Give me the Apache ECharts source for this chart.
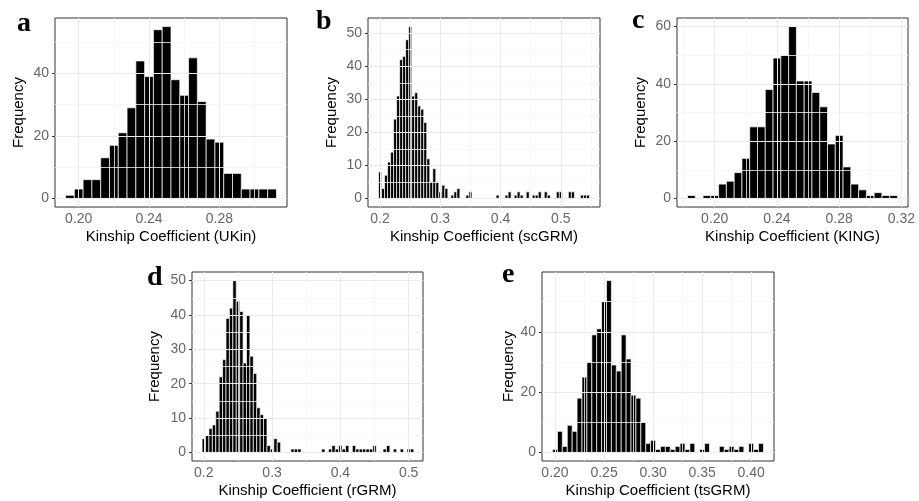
<!DOCTYPE html>
<html>
<head>
<meta charset="utf-8">
<script src="https://cdn.jsdelivr.net/npm/echarts@6/dist/echarts.min.js"></script>
<style>
  html, body { margin: 0; padding: 0; background: #fff; }
  #chart { width: 919px; height: 501px; }
</style>
</head>
<body>
<div id="chart"></div>
<script>
// Histogram bin width shared by all five estimators
const binWidth = 0.005;

// (a) UKin
const ukinBins   = [0.195, 0.200, 0.205, 0.210, 0.215, 0.220, 0.225, 0.230, 0.235, 0.240, 0.245, 0.250,
                    0.255, 0.260, 0.265, 0.270, 0.275, 0.280, 0.285, 0.290, 0.295, 0.300, 0.305, 0.310];
const ukinCounts = [1, 3, 6, 6, 13, 17, 21, 29, 44, 39, 54, 55,
                    38, 33, 45, 31, 19, 18, 8, 8, 3, 3, 3, 3];
const ukinTicksX = ['0.20', '0.24', '0.28'];
const ukinMinorX = [0.22, 0.26, 0.30];
const ukinTicksY = ['0', '20', '40'];
const ukinMinorY = [10, 30, 50];

// (b) scGRM (bins with zero count omitted)
const scgrmBins   = [0.200, 0.205, 0.210, 0.215, 0.220, 0.225, 0.230, 0.235, 0.240, 0.245, 0.250, 0.255,
                     0.260, 0.265, 0.270, 0.275, 0.280, 0.285, 0.290, 0.295, 0.300, 0.305, 0.310,
                     0.320, 0.325, 0.330, 0.345, 0.350, 0.395, 0.410, 0.415, 0.425, 0.430, 0.435,
                     0.445, 0.455, 0.460, 0.465, 0.475, 0.480, 0.495, 0.500, 0.515, 0.520,
                     0.535, 0.540, 0.545];
const scgrmCounts = [8, 3, 7, 11, 14, 24, 31, 42, 43, 48, 52, 31,
                     32, 28, 27, 23, 12, 5, 9, 5, 2, 4, 3,
                     1, 2, 3, 1, 2, 1, 1, 2, 1, 2, 1,
                     2, 1, 1, 2, 2, 1, 2, 2, 2, 2,
                     1, 1, 1];
const scgrmTicksX = ['0.2', '0.3', '0.4', '0.5'];
const scgrmMinorX = [0.25, 0.35, 0.45, 0.55];
const scgrmTicksY = ['0', '10', '20', '30', '40', '50'];
const scgrmMinorY = [5, 15, 25, 35, 45];

// (c) KING
const kingBins   = [0.185, 0.190, 0.195, 0.200, 0.205, 0.210, 0.215, 0.220, 0.225, 0.230, 0.235, 0.240,
                    0.245, 0.250, 0.255, 0.260, 0.265, 0.270, 0.275, 0.280, 0.285, 0.290, 0.295,
                    0.300, 0.305, 0.310, 0.315];
const kingCounts = [1, 0, 1, 1, 5, 6, 9, 14, 25, 25, 38, 49,
                    50, 60, 41, 41, 37, 32, 19, 22, 11, 5, 3,
                    1, 2, 1, 1];
const kingTicksX = ['0.20', '0.24', '0.28', '0.32'];
const kingMinorX = [0.18, 0.22, 0.26, 0.30];
const kingTicksY = ['0', '20', '40', '60'];
const kingMinorY = [10, 30, 50];

// (d) rGRM (bins with zero count omitted)
const rgrmBins   = [0.200, 0.205, 0.210, 0.215, 0.220, 0.225, 0.230, 0.235, 0.240, 0.245, 0.250, 0.255,
                    0.260, 0.265, 0.270, 0.275, 0.280, 0.285, 0.290, 0.295, 0.300, 0.305, 0.310,
                    0.330, 0.335, 0.340, 0.375, 0.385, 0.390, 0.395, 0.400, 0.405, 0.410,
                    0.420, 0.425, 0.430, 0.435, 0.440, 0.445, 0.450, 0.465, 0.470, 0.480,
                    0.490, 0.500, 0.505];
const rgrmCounts = [4, 5, 7, 8, 12, 22, 27, 39, 42, 50, 44, 41,
                    26, 40, 28, 23, 13, 11, 10, 2, 1, 4, 3,
                    1, 1, 1, 1, 1, 2, 1, 2, 1, 2,
                    2, 1, 1, 1, 1, 1, 2, 1, 2, 1,
                    1, 1, 1];
const rgrmTicksX = ['0.2', '0.3', '0.4', '0.5'];
const rgrmMinorX = [0.25, 0.35, 0.45];
const rgrmTicksY = ['0', '10', '20', '30', '40', '50'];
const rgrmMinorY = [5, 15, 25, 35, 45];

// (e) tsGRM (bins with zero count omitted)
const tsgrmBins   = [0.200, 0.205, 0.210, 0.215, 0.220, 0.225, 0.230, 0.235, 0.240, 0.245, 0.250, 0.255,
                     0.260, 0.265, 0.270, 0.275, 0.280, 0.285, 0.290, 0.295, 0.300, 0.305, 0.310,
                     0.315, 0.320, 0.325, 0.330, 0.335, 0.340, 0.350, 0.355, 0.370, 0.375,
                     0.380, 0.385, 0.390, 0.400, 0.405, 0.410];
const tsgrmCounts = [1, 7, 2, 9, 7, 18, 25, 30, 39, 41, 50, 57,
                     29, 27, 39, 31, 19, 18, 10, 3, 4, 1, 2,
                     2, 1, 2, 3, 1, 3, 1, 3, 2, 1,
                     2, 1, 2, 3, 1, 3];
const tsgrmTicksX = ['0.20', '0.25', '0.30', '0.35', '0.40'];
const tsgrmMinorX = [0.225, 0.275, 0.325, 0.375];
const tsgrmTicksY = ['0', '20', '40'];
const tsgrmMinorY = [10, 30, 50];

// Panel layout: plot box in pixels, axis ranges, label placement
const panels = [
  { letter: 'a', title: 'Kinship Coefficient (UKin)', bins: ukinBins, counts: ukinCounts,
    xTicks: ukinTicksX, xMinor: ukinMinorX, yTicks: ukinTicksY, yMinor: ukinMinorY,
    box: [55, 18, 232, 189], xRange: [0.1865, 0.3185], yRange: [-2.75, 57.75],
    yGap: 29, letterAt: [17, 30] },
  { letter: 'b', title: 'Kinship Coefficient (scGRM)', bins: scgrmBins, counts: scgrmCounts,
    xTicks: scgrmTicksX, xMinor: scgrmMinorX, yTicks: scgrmTicksY, yMinor: scgrmMinorY,
    box: [368, 18, 232, 189], xRange: [0.18, 0.565], yRange: [-2.6, 54.6],
    yGap: 29, letterAt: [316, 28] },
  { letter: 'c', title: 'Kinship Coefficient (KING)', bins: kingBins, counts: kingCounts,
    xTicks: kingTicksX, xMinor: kingMinorX, yTicks: kingTicksY, yMinor: kingMinorY,
    box: [677, 18, 231, 189], xRange: [0.17575, 0.32425], yRange: [-3, 63],
    yGap: 29, letterAt: [632, 27] },
  { letter: 'd', title: 'Kinship Coefficient (rGRM)', bins: rgrmBins, counts: rgrmCounts,
    xTicks: rgrmTicksX, xMinor: rgrmMinorX, yTicks: rgrmTicksY, yMinor: rgrmMinorY,
    box: [192, 272, 231, 189], xRange: [0.1827, 0.521], yRange: [-2.5, 52.5],
    yGap: 30, letterAt: [147, 284] },
  { letter: 'e', title: 'Kinship Coefficient (tsGRM)', bins: tsgrmBins, counts: tsgrmCounts,
    xTicks: tsgrmTicksX, xMinor: tsgrmMinorX, yTicks: tsgrmTicksY, yMinor: tsgrmMinorY,
    box: [542, 272, 232, 189], xRange: [0.18675, 0.42325], yRange: [-2.85, 59.85],
    yGap: 25, letterAt: [502, 281] }
];

const GRID_MAJOR = '#ebebeb';
const GRID_MINOR = '#f5f5f5';
const FONT = '"Liberation Sans", Arial, sans-serif';

function labelFor(labels) {
  return function (v) {
    const s = labels.find(t => Math.abs(parseFloat(t) - v) < 1e-9);
    return s === undefined ? '' : s;
  };
}

// Histogram bars: each bin drawn from its centre and count through the axis scales
function renderBar(params, api) {
  const c = api.value(0);
  const n = api.value(1);
  if (!n) return null;
  const top = api.coord([c - binWidth / 2, n]);
  const base = api.coord([c + binWidth / 2, 0]);
  return {
    type: 'rect',
    shape: { x: top[0], y: top[1], width: base[0] - top[0], height: base[1] - top[1] },
    style: { fill: '#000', stroke: '#fff', lineWidth: 0.7 }
  };
}

const grid = [], xAxis = [], yAxis = [], series = [], graphic = [];

panels.forEach((p, i) => {
  const xVals = p.xTicks.map(parseFloat);
  const yVals = p.yTicks.map(parseFloat);

  grid.push({
    left: p.box[0], top: p.box[1], width: p.box[2], height: p.box[3],
    show: true, backgroundColor: '#fff', borderColor: '#333', borderWidth: 1
  });

  xAxis.push({
    type: 'value', gridIndex: i, min: p.xRange[0], max: p.xRange[1],
    axisLine: { show: false },
    splitLine: { show: false },
    axisTick: { show: true, length: 3, customValues: xVals, lineStyle: { color: '#333', width: 1 } },
    axisLabel: { customValues: xVals, formatter: labelFor(p.xTicks), color: '#666',
                 fontSize: 14, fontFamily: FONT, margin: 5 },
    name: p.title, nameLocation: 'middle', nameGap: 22,
    nameTextStyle: { color: '#000', fontSize: 15, fontFamily: FONT }
  });

  yAxis.push({
    type: 'value', gridIndex: i, min: p.yRange[0], max: p.yRange[1],
    axisLine: { show: false },
    splitLine: { show: false },
    axisTick: { show: true, length: 3, customValues: yVals, lineStyle: { color: '#333', width: 1 } },
    axisLabel: { customValues: yVals, formatter: labelFor(p.yTicks), color: '#666',
                 fontSize: 14, fontFamily: FONT, margin: 6 },
    name: 'Frequency', nameLocation: 'middle', nameGap: p.yGap, nameRotate: 90,
    nameTextStyle: { color: '#000', fontSize: 15, fontFamily: FONT }
  });

  // Panel grid lines (major at labelled ticks, minor halfway between)
  const gridLines = []
    .concat(p.xMinor.map(v => ({ xAxis: v, lineStyle: { color: GRID_MINOR, width: 0.8 } })))
    .concat(p.yMinor.map(v => ({ yAxis: v, lineStyle: { color: GRID_MINOR, width: 0.8 } })))
    .concat(xVals.map(v => ({ xAxis: v, lineStyle: { color: GRID_MAJOR, width: 1 } })))
    .concat(yVals.map(v => ({ yAxis: v, lineStyle: { color: GRID_MAJOR, width: 1 } })));

  series.push({
    type: 'line', xAxisIndex: i, yAxisIndex: i, data: [], z: 1, silent: true,
    markLine: {
      silent: true, symbol: ['none', 'none'], animation: false,
      label: { show: false },
      lineStyle: { type: 'solid' },
      data: gridLines
    }
  });

  series.push({
    type: 'custom', xAxisIndex: i, yAxisIndex: i, z: 3,
    renderItem: renderBar,
    encode: { x: 0, y: 1 },
    data: p.bins.map((b, k) => [b, p.counts[k]])
  });

  graphic.push({
    type: 'text', left: p.letterAt[0], top: p.letterAt[1] - 20,
    style: { text: p.letter, fill: '#000',
             font: 'bold 28px "Liberation Serif", "DejaVu Serif", serif' }
  });
});

const chart = echarts.init(document.getElementById('chart'), null, { renderer: 'canvas' });
chart.setOption({
  animation: false,
  backgroundColor: '#fff',
  grid, xAxis, yAxis, series, graphic
});
</script>
</body>
</html>
